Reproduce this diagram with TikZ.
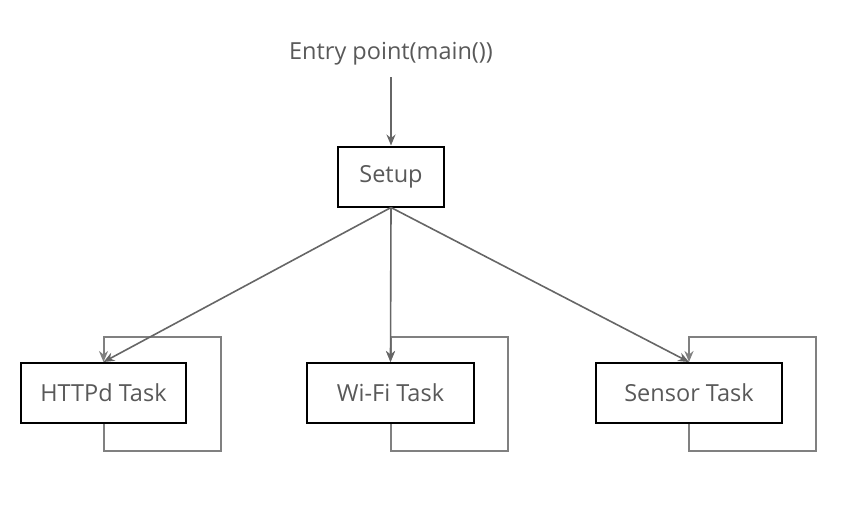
\documentclass[tikz,border=0pt]{standalone}
\usepackage{fontspec}
\setmainfont{Open Sans}
\usepackage{xcolor}
\usetikzlibrary{arrows.meta}
\definecolor{txtgray}{HTML}{595959}
\definecolor{linegray}{HTML}{666666}
\definecolor{loopgray}{HTML}{808080}

\begin{document}
\begin{tikzpicture}[x=1pt,y=-1pt,
        task/.style={draw=black, line width=2pt, fill=white, text=txtgray,
                     font=\fontsize{23.5}{28}\selectfont, minimum height=60pt, inner sep=0pt},
        flow/.style={draw=linegray, line width=1.6pt, -{Stealth[length=11pt,width=9pt]}},
        selfloop/.style={draw=loopgray, line width=2pt, -{Stealth[length=11pt,width=9pt]}}]
        \useasboundingbox (0,0) rectangle (846,504);
        % nodes
        \node[text=txtgray, font=\fontsize{23.5}{28}\selectfont] (entry) at (391,54) {Entry point(main())};
        \node[task, minimum width=106pt] (setup) at (391,176.5) {Setup};
        \node[task, minimum width=165pt] (httpd) at (103.5,393) {HTTPd Task};
        \node[task, minimum width=167pt] (wifi) at (390.5,393) {Wi-Fi Task};
        \node[task, minimum width=186pt] (sensor) at (689,393) {Sensor Task};
        % loops
        \draw[selfloop] (httpd.south) -- ++(0,27) -| ++(117,-114) -| (httpd.north);
        \draw[selfloop] (wifi.south) -- ++(0,27) -| ++(117,-114) -| (wifi.north);
        \draw[selfloop] (sensor.south) -- ++(0,27) -| ++(127,-114) -| (sensor.north);
        % edges
        \draw[flow] (entry) ++(0,23) -- (setup.north);
        \draw[flow] (setup.south) -- (httpd.north);
        \draw[flow] (setup.south) -- (wifi.north);
        \draw[flow] (setup.south) -- (sensor.north);
\end{tikzpicture}
\end{document}
